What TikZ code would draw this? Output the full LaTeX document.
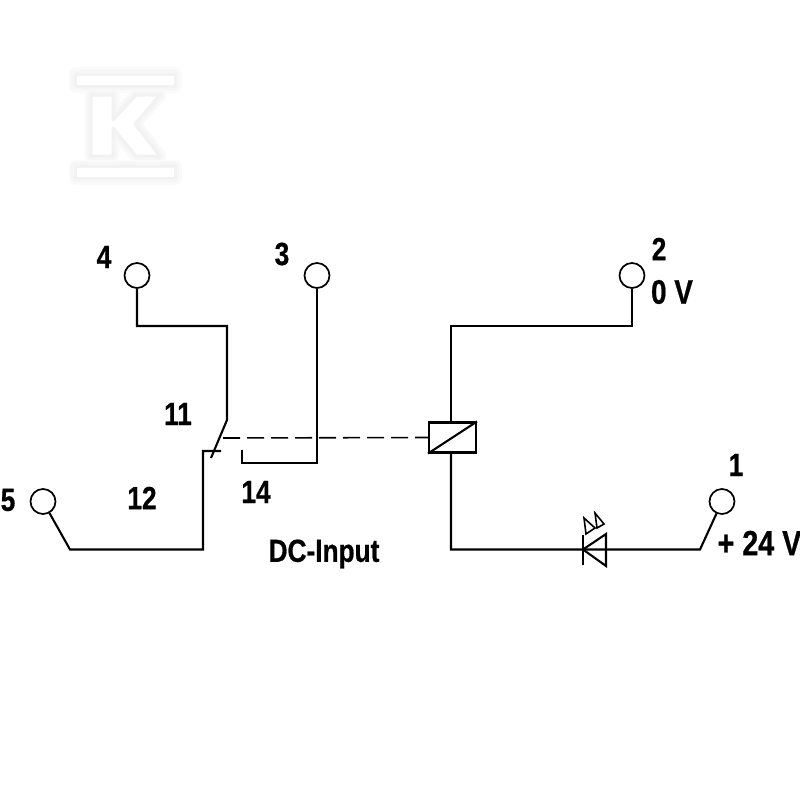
\documentclass[tikz,border=0pt]{standalone}
\usepackage{fontspec}
\setmainfont[FakeStretch=0.82,FakeBold=0.6]{Liberation Sans}
\begin{document}
\begin{tikzpicture}[x=1pt,y=-1pt,
  wire/.style={draw=black,line width=2.1pt,line join=miter},
  term/.style={circle,draw=black,fill=white,line width=1.7pt,minimum size=25pt,inner sep=0pt},
  lbl/.style={font=\bfseries\fontsize{32}{34}\selectfont,inner sep=0pt,text=black},
  halowide/.style={draw=black!2,fill=black!2,line width=13pt,line join=round},
  halomid/.style={draw=black!3.5,fill=black!3.5,line width=8pt,line join=round},
  halocore/.style={draw=black!5,fill=white,line width=3pt,line join=round}]
\useasboundingbox (0,0) rectangle (800,800);
% watermark
\foreach \h in {halowide,halomid,halocore}{
\path[\h] (75,74) rectangle (175,86);
\path[\h] (75,166) rectangle (175,178);
\path[\h] (91,95) -- (113,95) -- (113,120) -- (136,95) -- (160,95) -- (135,124) -- (160,156) -- (136,156) -- (113,128) -- (113,156) -- (91,156) -- cycle;
}
% terminals
\node[term] (t4) at (137,275.5) {};
\node[term] (t3) at (317,275.5) {};
\node[term] (t2) at (632,275.5) {};
\node[term] (t5) at (43,501.5) {};
\node[term] (t1) at (722,501.5) {};
% relay
\node[draw=black,line width=2.1pt,minimum width=47pt,minimum height=30pt,inner sep=0pt] (relay) at (452.5,437.5) {};
\draw[line width=2.1pt] (relay.south west) -- (relay.north east);
% bends
\coordinate (a1) at (137,326);
\coordinate (a2) at (227,326);
\coordinate (a3) at (227,420);
\coordinate (sw) at (211,458);
\coordinate (b1) at (70,549.5);
\coordinate (b2) at (203,549.5);
\coordinate (b3) at (203,451);
\coordinate (b4) at (221,451);
\coordinate (c1) at (242,450);
\coordinate (c2) at (242,463);
\coordinate (c3) at (317,463);
\coordinate (d1) at (632,326);
\coordinate (d2) at (451,326);
\coordinate (d3) at (451,422);
\coordinate (e1) at (451,452);
\coordinate (e2) at (451,549.5);
\coordinate (e3) at (700,549.5);
\coordinate (m) at (223,438);
% wires
\draw[wire] (t4) -- (a1) -- (a2) -- (a3) -- (sw);
\draw[wire] (t5) -- (b1) -- (b2) -- (b3) -- (b4);
\draw[wire] (c1) -- (c2) -- (c3) -- (t3);
\draw[wire] (t2) -- (d1) -- (d2) -- (d3);
\draw[wire] (e1) -- (e2) -- (e3) -- (t1);
\draw[draw=black,line width=1.6pt,dash pattern=on 17pt off 7pt] (m) -- (relay.west);
% LED
\draw[wire] (583,535) -- (583,565);
\draw[wire] (583,549.5) -- (606,534) -- (606,566) -- cycle;
\draw[draw=black,line width=1.6pt,line join=miter] (584,518) -- (586,534) -- (595,528) -- cycle;
\draw[draw=black,line width=1.6pt,line join=miter] (595,513) -- (597,528) -- (604,524) -- cycle;
% labels
\node[lbl] (l4) at (104,257) {4};
\node[lbl] (l3) at (282,254) {3};
\node[lbl] (l2) at (659,249) {2};
\node[lbl,font=\bfseries\fontsize{34}{36}\selectfont] (l0) at (672,292) {0 V};
\node[lbl] (l11) at (178,414) {11};
\node[lbl] (l12) at (142,498) {12};
\node[lbl] (l14) at (256,492) {14};
\node[lbl] (l5) at (8,500) {5};
\node[lbl] (l1) at (736,465) {1};
\node[lbl,font=\bfseries\fontsize{35}{37}\selectfont] (l24) at (759.5,543) {+ 24 V};
\node[lbl] (ldc) at (324,554) {DC-Input};
\end{tikzpicture}
\end{document}
